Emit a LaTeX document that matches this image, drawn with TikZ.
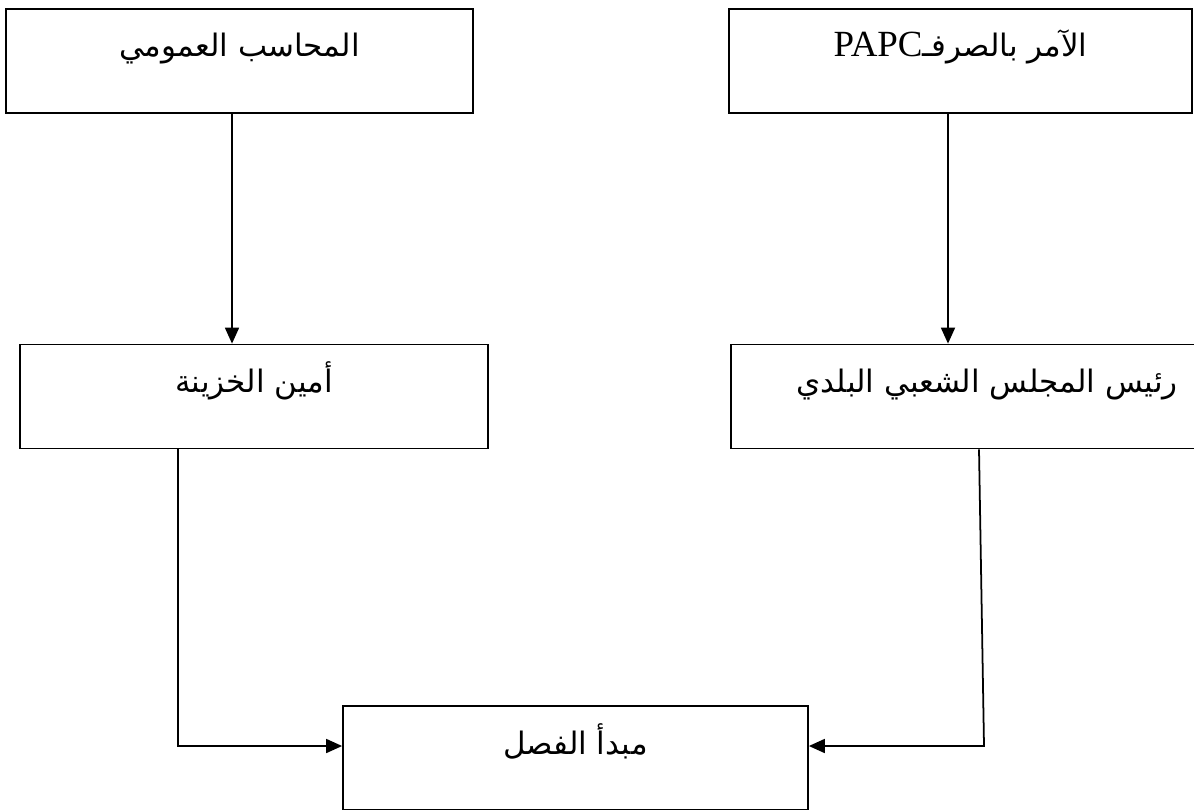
\documentclass[tikz,border=0pt]{standalone}
\usepackage{fontspec}
\usetikzlibrary{arrows.meta}
\TeXXeTstate=1
\newfontfamily\arabicfont[Script=Arabic]{DejaVu Sans}
\newfontfamily\latinfont{Liberation Serif}
\tikzset{
    box/.style={draw, line width=1pt, inner sep=0pt, minimum height=2.08cm,
        text height=0.96cm, text depth=1.12cm,
        font=\arabicfont\fontsize{17.6}{21}\selectfont},
    arr/.style={line width=1pt, -{Triangle[length=0.32cm,width=0.28cm]}}
}
\begin{document}
\begin{tikzpicture}
        \useasboundingbox (0,0) rectangle (23.88,-16.2);
        % Ligne du haut
        \node[box, minimum width=9.34cm] (acct) at (4.79,-1.22) {\beginR المحاسب العمومي\endR};
        \node[box, minimum width=9.26cm] (ordo) at (19.21,-1.22) {\beginR الآمر بالصرفـ\beginL{\latinfont\fontsize{21}{24}\selectfont PAPC}\endL\endR};
        % Ligne du milieu
        \node[box, minimum width=9.36cm] (tres) at (5.08,-7.93) {\beginR أمين الخزينة\endR};
        \node[box, minimum width=10.24cm] (apc) at (19.74,-7.93) {\beginR رئيس المجلس الشعبي البلدي\endR};
        % Principe
        \node[box, minimum width=9.3cm] (sep) at (11.51,-15.16) {\beginR مبدأ الفصل\endR};
        \coordinate (bend) at (19.68,-14.92);
        % Fleches
        \draw[arr] ([xshift=-0.15cm]acct.south) -- ([xshift=-0.15cm]acct.south |- tres.north);
        \draw[arr] ([xshift=-0.25cm]ordo.south) -- ([xshift=-0.25cm]ordo.south |- apc.north);
        \draw[arr] ([xshift=-1.52cm]tres.south) |- ([yshift=0.24cm]sep.west);
        \draw[arr] ([xshift=-0.16cm]apc.south) -- (bend) -- ([yshift=0.24cm]sep.east);
    \end{tikzpicture}
\end{document}
